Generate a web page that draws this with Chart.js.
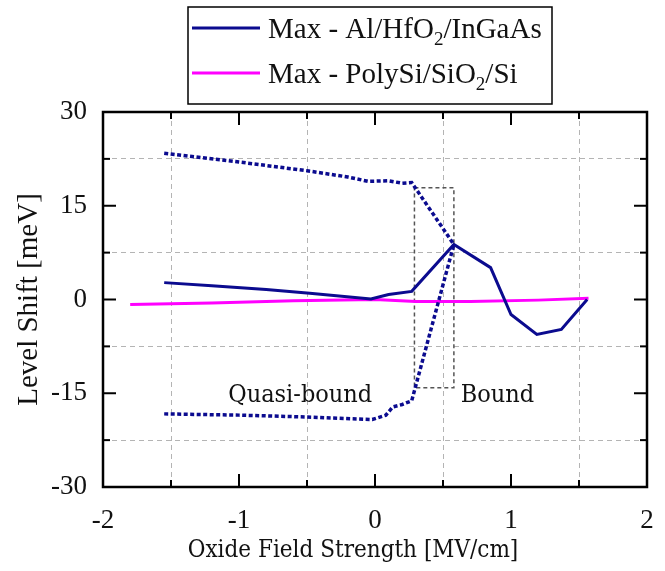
<!DOCTYPE html>
<html>
<head>
<meta charset="utf-8">
<script src="https://cdn.jsdelivr.net/npm/chart.js@4.4.0/dist/chart.umd.min.js"></script>
<style>
  html, body { margin: 0; padding: 0; background: #fff; }
  #wrap { width: 665px; height: 571px; position: relative; }
</style>
</head>
<body>
<div id="wrap"><canvas id="myChart" width="665" height="571"></canvas></div>
<script>
// data
const inGaAsX = [-1.55, -1.2, -0.8, -0.48, -0.03, 0.1, 0.27, 0.58, 0.85, 1.0, 1.19, 1.37, 1.56]
const inGaAsY = [2.7, 2.2, 1.6, 1.0, 0.1, 0.8, 1.3, 8.8, 5.1, -2.4, -5.6, -4.8, 0]

const upperX = [-1.55, -1.0, -0.5, -0.2, -0.05, 0.1, 0.2, 0.27, 0.58]
const upperY = [23.4, 22.0, 20.6, 19.6, 18.9, 19.0, 18.6, 18.7, 8.8]

const lowerX = [-1.55, -1.0, -0.5, -0.02, 0.08, 0.13, 0.2, 0.27, 0.58]
const lowerY = [-18.3, -18.5, -18.8, -19.2, -18.5, -17.2, -16.8, -16.2, 8.8]

const siX = [-1.8, -1.2, -0.6, 0, 0.3, 0.7, 1.2, 1.57]
const siY = [-0.8, -0.55, -0.2, 0, -0.3, -0.3, -0.1, 0.2]

const boxX = [0.29, 0.58, 0.58, 0.29, 0.29]
const boxY = [17.9, 17.9, -14.1, -14.1, 17.9]

const xTicks = [-2, -1, 0, 1, 2]
const yTicks = [-30, -15, 0, 15, 30]

const legendItems = [
  {pre: 'Max - Al/HfO', sub: '2', post: '/InGaAs', color: '#0b0b8f'},
  {pre: 'Max - PolySi/SiO', sub: '2', post: '/Si', color: '#ff00ff'}
]
const notes = [
  {text: 'Quasi-bound', x: -0.55, y: -15.4},
  {text: 'Bound', x: 0.9, y: -15.4}
]
const xTitle = 'Oxide Field Strength [MV/cm]'

const BLUE = '#0b0b8f'
const SERIF2 = '"DejaVu Serif Condensed", "DejaVu Serif", serif'
const pts = (xs, ys) => xs.map((v, i) => ({x: v, y: ys[i]}))

// frame, inward ticks, legend, notes and x title
const decor = {
  id: 'decor',
  afterDraw(chart) {
    const {ctx, chartArea: a, scales: {x, y}} = chart
    ctx.save()
    ctx.strokeStyle = '#000'
    ctx.lineWidth = 2
    const line = (x1, y1, x2, y2) => { ctx.beginPath(); ctx.moveTo(x1, y1); ctx.lineTo(x2, y2); ctx.stroke() }
    x.ticks.forEach(t => {
      const px = x.getPixelForValue(t.value)
      const len = xTicks.includes(t.value) ? 13 : 7
      line(px, a.bottom, px, a.bottom - len)
      line(px, a.top, px, a.top + len)
    })
    y.ticks.forEach(t => {
      const py = y.getPixelForValue(t.value)
      const len = yTicks.includes(t.value) ? 13 : 7
      line(a.left, py, a.left + len, py)
      line(a.right, py, a.right - len, py)
    })
    ctx.lineWidth = 2.5
    ctx.strokeRect(a.left, a.top, a.width, a.height)

    // notes
    ctx.fillStyle = '#111'
    ctx.font = '25px ' + SERIF2
    ctx.textAlign = 'center'
    ctx.textBaseline = 'middle'
    notes.forEach(n => ctx.fillText(n.text, x.getPixelForValue(n.x), y.getPixelForValue(n.y)))

    // x title, sits a little left of the plot centre in the original
    ctx.font = '24px ' + SERIF2
    ctx.textBaseline = 'alphabetic'
    ctx.fillText(xTitle, 353, 557)

    // legend box
    ctx.fillStyle = '#fff'
    ctx.fillRect(188, 7, 364, 97)
    ctx.lineWidth = 1.5
    ctx.strokeStyle = '#000'
    ctx.strokeRect(188, 7, 364, 97)
    ctx.textAlign = 'left'
    legendItems.forEach((it, i) => {
      const ly = 28 + i * 45
      ctx.strokeStyle = it.color
      ctx.lineWidth = 3
      line(192, ly, 260, ly)
      ctx.fillStyle = '#111'
      let tx = 268
      const base = ly + 10
      ctx.font = '29px "Liberation Serif"'
      ctx.fillText(it.pre, tx, base)
      tx += ctx.measureText(it.pre).width
      ctx.font = '19px "Liberation Serif"'
      ctx.fillText(it.sub, tx, base + 7)
      tx += ctx.measureText(it.sub).width
      ctx.font = '29px "Liberation Serif"'
      ctx.fillText(it.post, tx, base)
    })
    ctx.restore()
  }
}

new Chart('myChart', {
  type: 'scatter',
  data: {
    datasets: [
      {label: 'Max - Al/HfO2/InGaAs', data: pts(inGaAsX, inGaAsY), showLine: true, borderColor: BLUE, borderWidth: 3, pointRadius: 0},
      {label: 'upper', data: pts(upperX, upperY), showLine: true, borderColor: BLUE, borderWidth: 3.5, borderDash: [4, 2.5], pointRadius: 0},
      {label: 'lower', data: pts(lowerX, lowerY), showLine: true, borderColor: BLUE, borderWidth: 3.5, borderDash: [4, 2.5], pointRadius: 0},
      {label: 'Max - PolySi/SiO2/Si', data: pts(siX, siY), showLine: true, borderColor: '#ff00ff', borderWidth: 3, pointRadius: 0},
      {label: 'box', data: pts(boxX, boxY), showLine: true, borderColor: '#555', borderWidth: 1.5, borderDash: [4, 3], pointRadius: 0}
    ]
  },
  options: {
    responsive: false,
    animation: false,
    layout: {padding: {top: 112, right: 18, left: 0, bottom: 0}},
    plugins: {legend: {display: false}, tooltip: {enabled: false}},
    scales: {
      x: {
        type: 'linear', min: -2, max: 2,
        afterFit: s => { s.height = 84; s.paddingLeft = 0; s.paddingRight = 0 },
        ticks: {
          stepSize: 0.5, padding: 18, color: '#111',
          font: {family: 'Liberation Serif', size: 27},
          callback: v => xTicks.includes(v) ? String(v) : ''
        },
        grid: {color: c => xTicks.includes(c.tick && c.tick.value) ? 'rgba(0,0,0,0)' : '#b4b4b4', lineWidth: 1, drawTicks: false},
        border: {display: false, dash: [5, 4]}
      },
      y: {
        min: -30, max: 30,
        afterFit: s => { s.width = 103; s.paddingTop = 0; s.paddingBottom = 0 },
        ticks: {
          stepSize: 7.5, padding: 16, color: '#111',
          font: {family: 'Liberation Serif', size: 27},
          callback: v => yTicks.includes(v) ? String(v) : ''
        },
        grid: {color: c => yTicks.includes(c.tick && c.tick.value) ? 'rgba(0,0,0,0)' : '#b4b4b4', lineWidth: 1, drawTicks: false},
        border: {display: false, dash: [5, 4]},
        title: {display: true, text: 'Level Shift [meV]', color: '#111', font: {family: 'Liberation Serif', size: 29}, padding: {top: 12, bottom: 0}}
      }
    }
  },
  plugins: [decor]
})
</script>
</body>
</html>
